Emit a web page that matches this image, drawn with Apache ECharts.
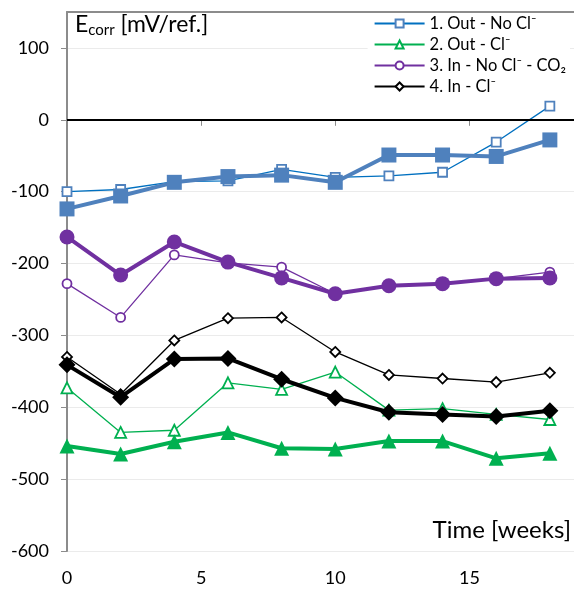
<!DOCTYPE html>
<html>
<head>
<meta charset="utf-8">
<script src="https://cdn.jsdelivr.net/npm/echarts@6/dist/echarts.min.js"></script>
<style>html,body{margin:0;padding:0;background:#fff}#c{width:574px;height:590px}</style>
</head>
<body>
<div id="c"></div>
<script>
// Time in weeks
const weeks = [0, 2, 4, 6, 8, 10, 12, 14, 16, 18];
const seriesNames = ['1. Out - No Cl\u207B', '2. Out - Cl\u207B', '3. In - No Cl\u207B - CO\u2082', '4. In - Cl\u207B'];
// Thin lines (open markers) — legend series
const outNoCl_a = [-100, -97, -86, -85, -69, -80, -78, -73, -31, 19];
const outCl_a   = [-373, -435, -432, -366, -375, -351, -404, -402, -410, -417];
const inNoCl_a  = [-228, -275, -188, -199, -205, -242, -231, -229, -221, -212];
const inCl_a    = [-330, -382, -307, -276, -275, -323, -355, -360, -365, -352];
// Thick lines (filled markers)
const outNoCl_b = [-124, -106, -87, -79, -77, -87, -49, -49, -51, -28];
const outCl_b   = [-454, -465, -448, -435, -457, -458, -447, -447, -471, -464];
const inNoCl_b  = [-163, -216, -170, -198, -220, -242, -231, -228, -221, -220];
const inCl_b    = [-341, -386, -333, -332, -361, -387, -407, -410, -413, -405];
const yTicks = [-600, -500, -400, -300, -200, -100, 0, 100];

const pair = v => weeks.map((w, i) => [w, v[i]]);
const FONT = 'Lato';

function thin(name, data, lineColor, markColor, symbol, size) {
  return {
    name, type: 'line', data: pair(data), symbol, symbolSize: size,
    lineStyle: {color: lineColor, width: 1.3},
    itemStyle: {color: '#fff', borderColor: markColor, borderWidth: 1.8},
    z: 2, animation: false
  };
}
function thick(name, data, color, symbol, size) {
  return {
    name, type: 'line', data: pair(data), symbol, symbolSize: size,
    lineStyle: {color, width: 4},
    itemStyle: {color, borderColor: color, borderWidth: 0},
    z: 3, animation: false
  };
}

const chart = echarts.init(document.getElementById('c'));
chart.setOption({
  backgroundColor: '#fff',
  animation: false,
  grid: {left: 67, right: 0, top: 12, bottom: 39},
  xAxis: [{
    type: 'value', min: 0, max: 18.9, interval: 5,
    axisLine: {show: true, lineStyle: {color: '#8c8c8c', width: 2}},
    axisTick: {show: true, length: 6, lineStyle: {color: '#8c8c8c', width: 1}},
    splitLine: {show: false},
    axisLabel: {showMaxLabel: false, color: '#000', fontSize: 18, fontFamily: FONT, margin: 18}
  }, {
    type: 'value', position: 'top', min: 0, max: 18.9,
    axisLine: {show: true, onZero: false, lineStyle: {color: '#8c8c8c', width: 2}},
    axisTick: {show: false}, axisLabel: {show: false}, splitLine: {show: false}
  }],
  yAxis: {
    type: 'value', min: -600, max: 150, interval: 100,
    axisLine: {show: true, onZero: false, lineStyle: {color: '#8c8c8c', width: 2}},
    axisTick: {show: true, length: 6, lineStyle: {color: '#8c8c8c', width: 1}},
    splitLine: {show: true, lineStyle: {color: '#ebebeb', width: 1}},
    axisLabel: {showMaxLabel: false, color: '#000', fontSize: 18, fontFamily: FONT, margin: 18}
  },
  legend: {
    data: seriesNames, orient: 'vertical', right: 4, top: 13,
    backgroundColor: '#fff', borderWidth: 0, padding: [2, 4, 0, 6],
    itemWidth: 50, itemHeight: 10, itemGap: 4,
    textStyle: {fontSize: 16.5, fontFamily: FONT, color: '#000'}
  },
  graphic: [
    {type: 'text', left: 75, top: 13, style: {
      rich: {
        m: {fontSize: 23, fontFamily: FONT, fill: '#000'},
        s: {fontSize: 15, fontFamily: FONT, fill: '#000', padding: [11, 0, 0, 0]}
      },
      text: '{m|E}{s|corr}{m| [mV/ref.]}'
    }},
    {type: 'text', right: 3, top: 518, style: {
      text: 'Time [weeks]', fontSize: 24, fontFamily: FONT, fill: '#000'
    }}
  ],
  series: [
    thin(seriesNames[0], outNoCl_a, '#0070c0', '#4f81bd', 'rect', 9),
    thin(seriesNames[1], outCl_a, '#00b050', '#00b050', 'triangle', 11),
    thin(seriesNames[2], inNoCl_a, '#7030a0', '#7030a0', 'circle', 9),
    Object.assign(thin(seriesNames[3], inCl_a, '#000', '#000', 'diamond', 10), {
      markLine: {silent: true, symbol: 'none', label: {show: false},
        lineStyle: {color: '#000', width: 2, type: 'solid'}, data: [{yAxis: yTicks[6]}]}
    }),
    thick('outNoCl_b', outNoCl_b, '#4f81bd', 'rect', 15),
    thick('outCl_b', outCl_b, '#00b050', 'triangle', 15),
    thick('inNoCl_b', inNoCl_b, '#7030a0', 'circle', 15),
    thick('inCl_b', inCl_b, '#000', 'diamond', 17)
  ]
});
</script>
</body>
</html>
